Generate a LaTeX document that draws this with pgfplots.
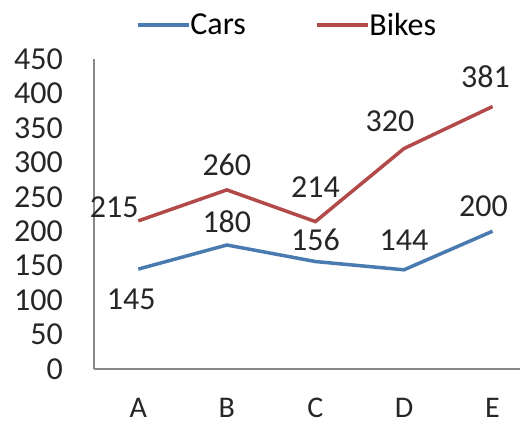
\documentclass[border=0pt]{standalone}
\usepackage{fontspec}
\setmainfont{Carlito}
\usepackage{pgfplots}
\pgfplotsset{compat=1.18}
\usepackage{pgfplotstable}
\definecolor{carsblue}{HTML}{4A7BB0}
\definecolor{bikesred}{HTML}{B24A4A}
\definecolor{axisgray}{HTML}{888888}
\pgfplotstableread{
x y dx dy
0 145 -7 -30
1 180 0 23
2 156 0 22
3 144 0 30
4 200 -9 25
}\cars
\pgfplotstableread{
x y dx dy
0 215 -24 14
1 260 0 25
2 214 0 34
3 320 -14 27
4 381 -7 30
}\bikes
\begin{document}
\begin{tikzpicture}[font=\fontsize{32}{38}\selectfont]
\useasboundingbox (0,0) rectangle (520pt,424pt);
\begin{axis}[
  at={(94pt,55pt)}, anchor=south west,
  scale only axis,
  width=426pt, height=310pt,
  xmin=-0.5, xmax=4.31,
  ymin=0, ymax=450,
  clip=false,
  axis x line*=bottom, axis y line*=left,
  axis line style={draw=axisgray, line width=1.5pt, -},
  xtick={0,1,2,3,4},
  xticklabels={A,B,C,D,E},
  ytick={0,50,...,450},
  major tick length=0pt,
  tick style={draw=none},
  /pgf/number format/assume math mode=true,
  ticklabel style={font=\fontsize{32}{38}\selectfont, text=black!85},
  yticklabel style={anchor=east, inner sep=0pt, xshift=-31pt},
  xticklabel style={anchor=north, inner sep=0pt, yshift=-29pt, font=\fontsize{30}{36}\selectfont},
  legend columns=2,
  legend style={draw=none, fill=none, at={(axis description cs:0.453,1.11)}, anchor=center,
    font=\fontsize{32}{38}\selectfont, inner sep=0pt,
    /tikz/every even column/.append style={column sep=67pt}},
  legend image code/.code={\draw[#1, line width=3.5pt] (0pt,0pt) -- (51pt,0pt);},
  nodes near coords,
  visualization depends on={\thisrow{dx} \as \dx},
  visualization depends on={\thisrow{dy} \as \dy},
  nodes near coords style={anchor=center, inner sep=0pt, xshift=\dx pt, yshift=\dy pt,
    font=\fontsize{32}{38}\selectfont, text=black!85},
]
\addplot[carsblue, line width=3.5pt, mark=none] table[x=x,y=y] {\cars};
\addlegendentry{\hspace{-2pt}Cars}
\addplot[bikesred, line width=3.5pt, mark=none] table[x=x,y=y] {\bikes};
\addlegendentry{\hspace{-2pt}Bikes}
\end{axis}
\end{tikzpicture}
\end{document}
